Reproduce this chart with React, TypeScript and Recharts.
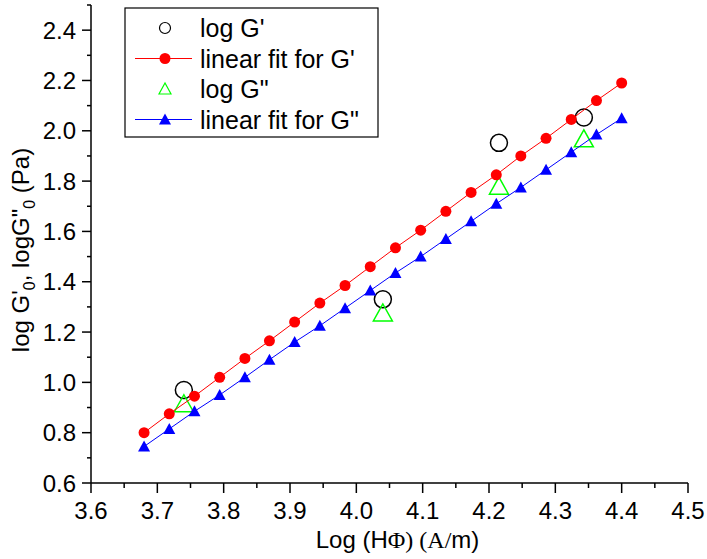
import React from "react";
import {
  ComposedChart,
  Scatter,
  XAxis,
  YAxis,
} from "recharts";

// linear fits
const fitX = [
  3.68, 3.718, 3.756, 3.794, 3.832, 3.869, 3.907, 3.945, 3.983, 4.021,
  4.059, 4.097, 4.135, 4.173, 4.211, 4.248, 4.286, 4.324, 4.362, 4.4,
];
const fitGp = [
  0.8, 0.875, 0.945, 1.02, 1.095, 1.165, 1.24, 1.315, 1.385, 1.46,
  1.535, 1.605, 1.68, 1.755, 1.825, 1.9, 1.97, 2.045, 2.12, 2.19,
];
const fitGpp = [
  0.745, 0.815, 0.885, 0.95, 1.02, 1.09, 1.16, 1.225, 1.295, 1.365,
  1.435, 1.5, 1.57, 1.64, 1.71, 1.775, 1.845, 1.915, 1.985, 2.05,
];

// measured points
const measX = [3.74, 4.04, 4.215, 4.343];
const logGp = [0.97, 1.33, 1.952, 2.053];
const logGpp = [0.915, 1.276, 1.78, 1.968];

const xTicks = [
  3.6, 3.65, 3.7, 3.75, 3.8, 3.85, 3.9, 3.95, 4.0, 4.05, 4.1, 4.15, 4.2,
  4.25, 4.3, 4.35, 4.4, 4.45, 4.5,
];
const yTicks = [
  0.6, 0.7, 0.8, 0.9, 1.0, 1.1, 1.2, 1.3, 1.4, 1.5, 1.6, 1.7, 1.8, 1.9, 2.0,
  2.1, 2.2, 2.3, 2.4, 2.5,
];

const SANS = "'Liberation Sans', Arial, sans-serif";
const SERIF = "'Liberation Serif', 'Times New Roman', serif";

const toPts = (xs: number[], ys: number[]) =>
  xs.map((x, i) => ({ x, y: ys[i] }));

const fitGpData = toPts(fitX, fitGp);
const fitGppData = toPts(fitX, fitGpp);
const gpData = toPts(measX, logGp);
const gppData = toPts(measX, logGpp);

const OpenCircle = (p: any) => (
  <circle cx={p.cx} cy={p.cy} r={8.5} fill="none" stroke="#000" strokeWidth={1.5} />
);
const OpenTriangle = (p: any) => (
  <polygon
    points={`${p.cx},${p.cy - 9} ${p.cx - 9.5},${p.cy + 8} ${p.cx + 9.5},${p.cy + 8}`}
    fill="none"
    stroke="#00ff00"
    strokeWidth={1.5}
  />
);
const RedDot = (p: any) => <circle cx={p.cx} cy={p.cy} r={5.5} fill="#ff0000" />;
const BlueTri = (p: any) => (
  <polygon
    points={`${p.cx},${p.cy - 6} ${p.cx - 6},${p.cy + 5} ${p.cx + 6},${p.cy + 5}`}
    fill="#0000ff"
  />
);

const isMajorX = (v: number) => Math.abs(v * 10 - Math.round(v * 10)) < 1e-6;
const isMajorY = (v: number) => Math.round(v * 10) % 2 === 0;

const XTick = ({ x, y, payload }: any) => {
  const major = isMajorX(payload.value);
  return (
    <g>
      <line x1={x} x2={x} y1={y} y2={y + (major ? 10 : 5)} stroke="#000" strokeWidth={1.5} />
      {major && (
        <text x={x} y={y + 36} textAnchor="middle" fontSize={24} fontFamily={SANS} fill="#000">
          {payload.value.toFixed(1)}
        </text>
      )}
    </g>
  );
};

const YTick = ({ x, y, payload }: any) => {
  const major = isMajorY(payload.value);
  return (
    <g>
      <line x1={x} x2={x - (major ? 9 : 4)} y1={y} y2={y} stroke="#000" strokeWidth={1.5} />
      {major && (
        <text x={x - 15} y={y + 8.5} textAnchor="end" fontSize={24} fontFamily={SANS} fill="#000">
          {payload.value.toFixed(1)}
        </text>
      )}
    </g>
  );
};

const XLabel = ({ viewBox }: any) => {
  const cx = viewBox.x + viewBox.width / 2 + 8;
  return (
    <text x={cx} y={548} textAnchor="middle" fontSize={24} fill="#000">
      <tspan fontFamily={SANS}>Log (H</tspan>
      <tspan fontFamily={SERIF}>Φ) (A/</tspan>
      <tspan fontFamily={SANS}>m)</tspan>
    </text>
  );
};

const YLabel = ({ viewBox }: any) => {
  const cy = viewBox.y + viewBox.height / 2 + 6;
  const x = 29;
  return (
    <text
      x={x}
      y={cy}
      transform={`rotate(-90 ${x} ${cy})`}
      textAnchor="middle"
      fontSize={24}
      fontFamily={SANS}
      fill="#000"
    >
      log G'
      <tspan fontSize={16} dy={6}>0</tspan>
      <tspan dy={-6}>, logG"</tspan>
      <tspan fontSize={16} dy={6}>0</tspan>
      <tspan dy={-6}> (Pa)</tspan>
    </text>
  );
};

const legendRows = [
  { label: "log G'", kind: "circle" },
  { label: "linear fit for G'", kind: "red" },
  { label: 'log G"', kind: "tri" },
  { label: 'linear fit for G"', kind: "blue" },
];

const ChartLegend = () => (
  <svg
    width={255}
    height={131}
    style={{ position: "absolute", left: 124, top: 7 }}
  >
    <rect x={1} y={1} width={253} height={129} fill="#fff" stroke="#000" strokeWidth={1.2} />
    {legendRows.map((r, i) => {
      const cy = 21 + i * 30.5;
      const cx = 41;
      return (
        <g key={r.label}>
          {r.kind === "red" && (
            <>
              <line x1={11} x2={68} y1={cy} y2={cy} stroke="#ff0000" strokeWidth={1} />
              <RedDot cx={cx} cy={cy} />
            </>
          )}
          {r.kind === "blue" && (
            <>
              <line x1={11} x2={68} y1={cy} y2={cy} stroke="#0000ff" strokeWidth={1} />
              <BlueTri cx={cx} cy={cy} />
            </>
          )}
          {r.kind === "circle" && (
            <circle cx={cx} cy={cy} r={5.5} fill="none" stroke="#000" strokeWidth={1.2} />
          )}
          {r.kind === "tri" && (
            <polygon
              points={`${cx},${cy - 6} ${cx - 6},${cy + 5} ${cx + 6},${cy + 5}`}
              fill="none"
              stroke="#00ff00"
              strokeWidth={1.2}
            />
          )}
          <text x={76} y={cy + 9} fontSize={25} fontFamily={SANS} fill="#000">
            {r.label}
          </text>
        </g>
      );
    })}
  </svg>
);

export default function App() {
  return (
    <div style={{ position: "absolute", left: 0, top: 0, width: 707, height: 559, background: "#fff" }}>
      <ComposedChart
        width={707}
        height={559}
        margin={{ top: 5, right: 19, bottom: 0, left: 0 }}
      >
        <XAxis
          type="number"
          dataKey="x"
          domain={[3.6, 4.5]}
          ticks={xTicks}
          interval={0}
          allowDataOverflow
          height={76}
          tickLine={false}
          tickSize={0}
          tickMargin={0}
          tick={<XTick />}
          axisLine={{ stroke: "#000", strokeWidth: 1.5 }}
          label={<XLabel />}
        />
        <YAxis
          type="number"
          dataKey="y"
          domain={[0.6, 2.5]}
          ticks={yTicks}
          interval={0}
          allowDataOverflow
          width={91}
          tickLine={false}
          tickSize={0}
          tickMargin={0}
          tick={<YTick />}
          axisLine={{ stroke: "#000", strokeWidth: 1.5 }}
          label={<YLabel />}
        />
        <Scatter name="log G'" data={gpData} shape={<OpenCircle />} isAnimationActive={false} />
        <Scatter name='log G"' data={gppData} shape={<OpenTriangle />} isAnimationActive={false} />
        <Scatter
          name="linear fit for G'"
          data={fitGpData}
          line={{ stroke: "#ff0000", strokeWidth: 1 }}
          shape={<RedDot />}
          isAnimationActive={false}
        />
        <Scatter
          name='linear fit for G"'
          data={fitGppData}
          line={{ stroke: "#0000ff", strokeWidth: 1 }}
          shape={<BlueTri />}
          isAnimationActive={false}
        />
      </ComposedChart>
      <ChartLegend />
    </div>
  );
}
